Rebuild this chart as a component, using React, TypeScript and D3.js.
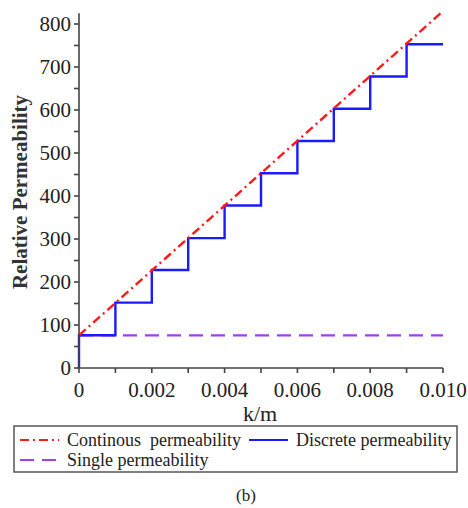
import * as d3 from 'd3';

// x positions (k/m) and step levels
const kValues = [0, 0.001, 0.002, 0.003, 0.004, 0.005, 0.006, 0.007, 0.008, 0.009, 0.01];
const discreteLevels = [76, 152, 228, 302, 378, 453, 528, 603, 678, 753];
const continuousEnds = [76, 830];
const singleLevel = 76;
const xTickValues = [0, 0.002, 0.004, 0.006, 0.008, 0.01];
const xTickLabels = ['0', '0.002', '0.004', '0.006', '0.008', '0.010'];
const yTicks = [0, 100, 200, 300, 400, 500, 600, 700, 800];

const RED = '#ff1a1a';
const BLUE = '#1a1aff';
const PURPLE = '#a040e8';
const AXIS = '#444';
const TEXT = '#222';

const x = d3.scaleLinear().domain([0, 0.01]).range([79, 443]);
const y = d3.scaleLinear().domain([0, 800]).range([368, 24]);
const line = d3.line<[number, number]>().x(d => x(d[0])).y(d => y(d[1]));

// serif text drawn at 18px and scaled to the wanted size
function Label({ x: tx, y: ty, size, anchor = 'start', rotate = 0, bold = false, fill = TEXT, children }: any) {
  const k = size / 18;
  return (
    <text transform={`translate(${tx},${ty}) rotate(${rotate}) scale(${k})`} fontSize={18}
      textAnchor={anchor} fill={fill} fontWeight={bold ? 'bold' : undefined}
      style={{ fontFamily: 'Liberation Serif', whiteSpace: 'pre' }}>{children}</text>
  );
}

export default function App() {
  const stepPts: [number, number][] = [[0, 0]];
  discreteLevels.forEach((v, i) => {
    stepPts.push([kValues[i], v]);
    stepPts.push([kValues[i + 1], v]);
  });
  const minorX = d3.range(0, 0.0101, 0.001);
  const minorY = d3.range(0, 801, 50);

  const legend = [
    { label: 'Continous  permeability', color: RED, dash: '9,4,2,4', lx: 20, ly: 440 },
    { label: 'Discrete permeability', color: BLUE, dash: undefined, lx: 249, ly: 440 },
    { label: 'Single permeability', color: PURPLE, dash: '14,8', lx: 20, ly: 460 },
  ];

  return (
    <svg width={468} height={508}
      style={{ position: 'absolute', left: 0, top: 0, display: 'block', background: '#fff' }}>
      {/* single permeability */}
      <path d={line([[0, singleLevel], [0.01, singleLevel]]) ?? ''} stroke={PURPLE} strokeWidth={2.2}
        fill="none" strokeDasharray="14,8" />
      {/* discrete permeability */}
      <path d={line(stepPts) ?? ''} stroke={BLUE} strokeWidth={2.4} fill="none" />
      {/* continuous permeability */}
      <path d={line([[0, continuousEnds[0]], [0.01, continuousEnds[1]]]) ?? ''} stroke={RED}
        strokeWidth={2.4} fill="none" strokeDasharray="9,4,2,4" />

      {/* axes */}
      <g stroke={AXIS} strokeWidth={1.6}>
        <line x1={x(0)} x2={x(0.01)} y1={y(0)} y2={y(0)} />
        {minorX.map((t, i) => <line key={i} x1={x(t)} x2={x(t)} y1={y(0)} y2={y(0) + 5} />)}
        <line x1={x(0)} x2={x(0)} y1={y(0)} y2={y(825)} />
        {minorY.map((t, i) => <line key={i} x1={x(0) - 5} x2={x(0)} y1={y(t)} y2={y(t)} />)}
      </g>
      {xTickValues.map((t, i) => (
        <Label key={i} x={x(t)} y={y(0) + 29} size={21} anchor="middle">{xTickLabels[i]}</Label>
      ))}
      {yTicks.map(t => (
        <Label key={t} x={x(0) - 8} y={y(t) + 7} size={21} anchor="end">{String(t)}</Label>
      ))}

      <Label x={260} y={421} size={22} anchor="middle">k/m</Label>
      <Label x={27} y={192} size={21} anchor="middle" rotate={-90} bold fill="#333">Relative Permeability</Label>

      {/* legend */}
      <rect x={14} y={426} width={443} height={46} fill="none" stroke="#555" strokeWidth={1.5} />
      {legend.map((it, i) => (
        <g key={i}>
          <line x1={it.lx} x2={it.lx + 39} y1={it.ly} y2={it.ly} stroke={it.color} strokeWidth={2.2}
            strokeDasharray={it.dash} />
          <Label x={it.lx + 47} y={it.ly + 6} size={18}>{it.label}</Label>
        </g>
      ))}

      <Label x={246} y={501} size={17} anchor="middle">(b)</Label>
    </svg>
  );
}
